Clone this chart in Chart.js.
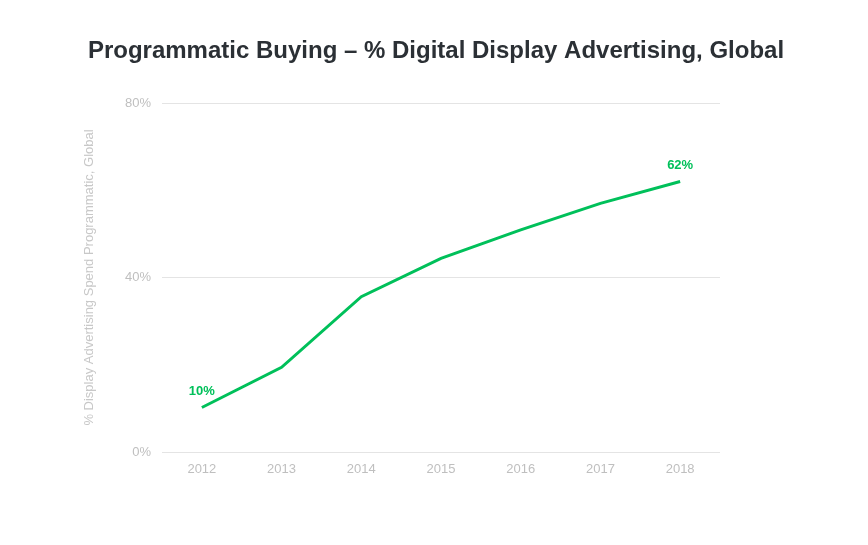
<!DOCTYPE html>
<html>
<head>
<meta charset="utf-8">
<script src="https://cdn.jsdelivr.net/npm/chart.js@4"></script>
<style>
html,body{margin:0;padding:0;background:#fff;}
#wrap{width:868px;height:545px;position:relative;}
</style>
</head>
<body>
<div id="wrap"><canvas id="c"></canvas></div>
<script>
const years = ['2012','2013','2014','2015','2016','2017','2018'];
const programmaticShare = [10.2, 19.4, 35.6, 44.4, 50.9, 57.0, 62.0];
const labelledPoints = [0, 6];
const labelTexts = ['10%', '62%'];
const yTicks = [0, 40, 80];
const chartTitle = 'Programmatic Buying – % Digital Display Advertising, Global';

const lineColor = '#00c05a';
const FONT = "'Liberation Sans', Arial, Helvetica, sans-serif";

const pointLabels = {
  id: 'pointLabels',
  afterDatasetsDraw(chart) {
    const ctx = chart.ctx;
    const meta = chart.getDatasetMeta(0);
    ctx.save();
    ctx.font = 'bold 13px ' + FONT;
    ctx.fillStyle = lineColor;
    ctx.textAlign = 'center';
    ctx.textBaseline = 'bottom';
    labelledPoints.forEach((idx, i) => {
      const p = meta.data[idx];
      ctx.fillText(labelTexts[i], p.x, p.y - 10);
    });
    ctx.restore();
  }
};

const pageTitle = {
  id: 'pageTitle',
  afterDraw(chart) {
    const ctx = chart.ctx;
    ctx.save();
    ctx.font = 'bold 24px ' + FONT;
    ctx.fillStyle = '#2b3035';
    ctx.textAlign = 'center';
    ctx.textBaseline = 'middle';
    ctx.fillText(chartTitle, 436, 51);
    ctx.restore();
  }
};

new Chart(document.getElementById('c'), {
  type: 'line',
  data: {
    labels: years,
    datasets: [{
      data: programmaticShare,
      borderColor: lineColor,
      backgroundColor: lineColor,
      borderWidth: 3,
      pointRadius: 0,
      tension: 0,
      fill: false
    }]
  },
  options: {
    responsive: true,
    maintainAspectRatio: false,
    animation: false,
    layout: { padding: { left: 82, right: 148, top: 103, bottom: 62 } },
    plugins: {
      legend: { display: false },
      tooltip: { enabled: false },
      title: { display: false }
    },
    scales: {
      x: {
        offset: true,
        grid: { display: false, drawTicks: false },
        border: { display: false },
        ticks: { color: '#bfbfbf', font: { family: FONT, size: 13 }, padding: 10 },
        afterFit(s) { s.height = 31; }
      },
      y: {
        min: 0,
        max: 80,
        afterBuildTicks(s) { s.ticks = yTicks.map(v => ({ value: v })); },
        grid: { color: '#e4e4e4', lineWidth: 1, drawTicks: false },
        border: { display: false },
        ticks: {
          color: '#bfbfbf',
          font: { family: FONT, size: 13 },
          padding: 11,
          callback: v => v + '%'
        },
        title: {
          display: true,
          text: '% Display Advertising Spend Programmatic, Global',
          color: '#c8c8c8',
          font: { family: FONT, size: 13 },
          padding: { top: 0, bottom: 0 }
        },
        afterFit(s) { s.width = 80; }
      }
    }
  },
  plugins: [pointLabels, pageTitle]
});
</script>
</body>
</html>
